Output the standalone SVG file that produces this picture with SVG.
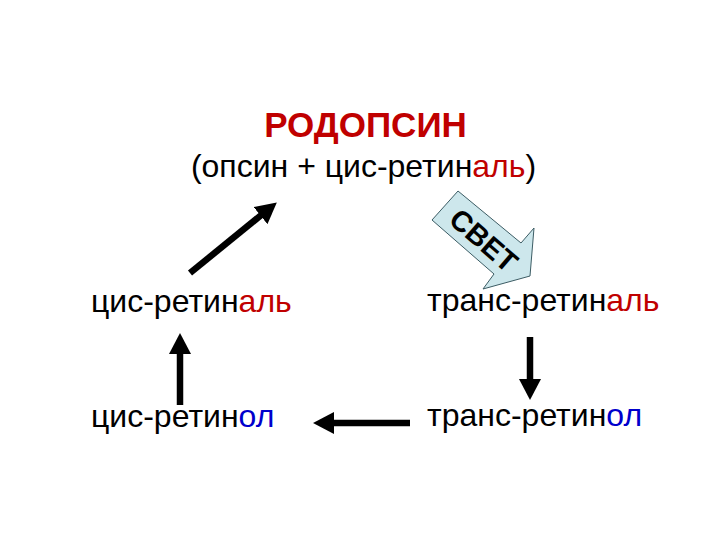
<svg xmlns="http://www.w3.org/2000/svg" width="720" height="540" viewBox="0 0 720 540">
  <style>
    .t { font-family: "Liberation Sans", Arial, sans-serif; fill: #000; }
    .title { font-size: 35px; font-weight: bold; fill: #C00000; }
    .sub { font-size: 32px; }
    .lbl { font-size: 32px; }
    .red { fill: #C00000; }
    .blue { fill: #0000CC; }
    .arr { stroke: #000; stroke-width: 6.5; fill: none; marker-end: url(#head); }
    .light { fill: #CDE7EC; stroke: #3C5C64; stroke-width: 1; }
    .light-t { font-family: "Liberation Sans", Arial, sans-serif; font-size: 29px; font-weight: bold; fill: #000; }
  </style>
  <defs>
    <marker id="head" markerUnits="userSpaceOnUse" markerWidth="22" markerHeight="22" refX="1" refY="11" orient="auto">
      <path d="M0,0 L21,11 L0,22 Z" fill="#000"/>
    </marker>
  </defs>
  <rect width="720" height="540" fill="#fff"/>

  <g id="rhodopsin">
    <text class="t title" x="365.5" y="137" text-anchor="middle">РОДОПСИН</text>
    <text class="t sub" x="363.5" y="177" text-anchor="middle">(опсин + цис-ретин<tspan class="red">аль</tspan>)</text>
  </g>

  <g id="cis-retinal">
    <text class="t lbl" x="91" y="312">цис-ретин<tspan class="red">аль</tspan></text>
  </g>
  <g id="trans-retinal">
    <text class="t lbl" x="427" y="311">транс-ретин<tspan class="red">аль</tspan></text>
  </g>
  <g id="cis-retinol">
    <text class="t lbl" x="91" y="427">цис-ретин<tspan class="blue">ол</tspan></text>
  </g>
  <g id="trans-retinol">
    <text class="t lbl" x="427" y="426">транс-ретин<tspan class="blue">ол</tspan></text>
  </g>

  <g id="light">
    <polygon class="light" points="458,191 521,243 534,228 530,276 483,289 494,274 432,220"/>
    <text class="light-t" transform="translate(484,240) rotate(41)" x="0" y="10.5" text-anchor="middle">СВЕТ</text>
  </g>

  <g id="connectors">
    <line class="arr" x1="190" y1="273" x2="261.3" y2="215"/>
    <line class="arr" x1="180" y1="405" x2="180" y2="353"/>
    <line class="arr" x1="410" y1="423" x2="333" y2="423"/>
    <line class="arr" x1="530" y1="337" x2="530" y2="380"/>
  </g>
</svg>
